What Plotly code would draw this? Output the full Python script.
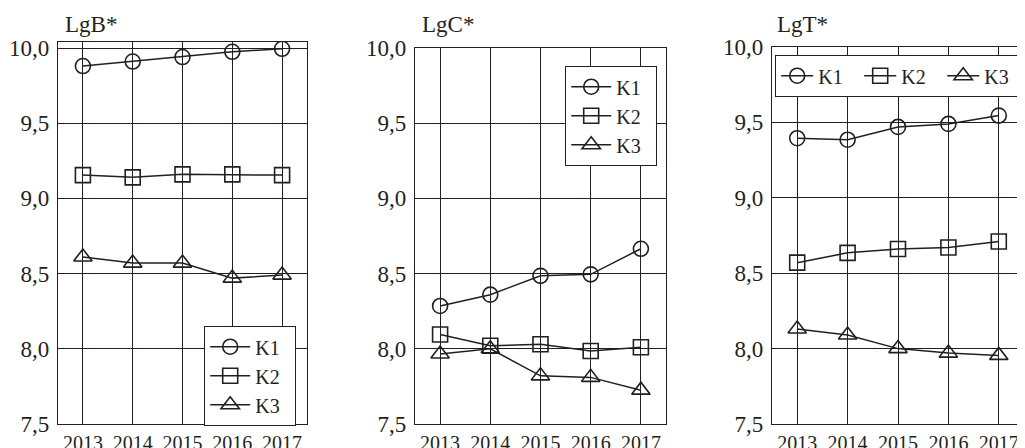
import plotly.graph_objects as go

years = [2013, 2014, 2015, 2016, 2017]
series_names = ["K1", "K2", "K3"]

lgb_k1 = [9.88, 9.91, 9.94, 9.975, 9.995]
lgb_k2 = [9.155, 9.14, 9.16, 9.16, 9.155]
lgb_k3 = [8.61, 8.57, 8.57, 8.47, 8.49]

lgc_k1 = [8.285, 8.36, 8.485, 8.495, 8.665]
lgc_k2 = [8.095, 8.02, 8.03, 7.985, 8.01]
lgc_k3 = [7.965, 8.0, 7.82, 7.81, 7.725]

lgt_k1 = [9.395, 9.385, 9.47, 9.49, 9.545]
lgt_k2 = [8.57, 8.635, 8.66, 8.67, 8.71]
lgt_k3 = [8.13, 8.09, 8.0, 7.97, 7.955]

titles = ["LgB*", "LgC*", "LgT*"]
y_ticks = [7.5, 8.0, 8.5, 9.0, 9.5, 10.0]

panels = [
    [lgb_k1, lgb_k2, lgb_k3],
    [lgc_k1, lgc_k2, lgc_k3],
    [lgt_k1, lgt_k2, lgt_k3],
]

# The page body has an 8px margin, so the figure is drawn 8px smaller and
# reference pixel positions are shifted by that offset.
OFF = 8
W, H = 1025 - OFF, 448 - OFF


def fx(px):
    return (px - OFF) / W


def fy(py):
    return 1 - (py - OFF) / H


FONT = '"Liberation Serif", "Times New Roman", "DejaVu Serif", serif'
INK = "#231f20"
symbols = ["circle-open", "square-open", "triangle-up-open"]

x_dom_px = [(58, 307), (415, 666), (772, 1024)]
y_top_px = [42, 48, 47]
y_bot_px = 424
y_max = [10.04, 10.0, 10.0]

fig = go.Figure()
legend_names = ["legend", "legend2", "legend3"]
NB = "\u00a0"

for p in range(3):
    xa = "x" if p == 0 else f"x{p+1}"
    ya = "y" if p == 0 else f"y{p+1}"
    for s in range(3):
        label = series_names[s] if p == 2 else series_names[s] + NB * 2
        fig.add_trace(go.Scatter(
            x=years, y=panels[p][s], name=label,
            mode="lines+markers", xaxis=xa, yaxis=ya,
            line=dict(color=INK, width=1.5),
            marker=dict(symbol=symbols[s], size=15 if s < 2 else 16,
                        color=INK, line=dict(color=INK, width=1.6)),
            legend=legend_names[p],
        ))

layout = dict(
    width=W, height=H,
    margin=dict(l=0, r=0, t=0, b=0, autoexpand=False),
    paper_bgcolor="white", plot_bgcolor="white",
    separators=",.",
    font=dict(family=FONT, size=22, color=INK),
    showlegend=True,
)

for p in range(3):
    xk = "xaxis" if p == 0 else f"xaxis{p+1}"
    yk = "yaxis" if p == 0 else f"yaxis{p+1}"
    x0, x1 = x_dom_px[p]
    layout[xk] = dict(
        domain=[fx(x0), min(fx(x1), 1.0)], range=[2012.5, 2017.5],
        tickvals=years, ticktext=[str(y) for y in years],
        showgrid=True, gridcolor=INK, gridwidth=1.1,
        showline=True, linecolor=INK, linewidth=1.4, mirror=True,
        zeroline=False, ticks="", ticklabelstandoff=1,
        anchor="y" if p == 0 else f"y{p+1}",
        tickfont=dict(family=FONT, size=20, color=INK),
    )
    layout[yk] = dict(
        domain=[fy(y_bot_px), fy(y_top_px[p])], range=[7.5, y_max[p]],
        tickvals=y_ticks, tickformat=".1f",
        showgrid=True, gridcolor=INK, gridwidth=1.1,
        showline=True, linecolor=INK, linewidth=1.4, mirror=True,
        zeroline=False, ticks="", ticklabelstandoff=3,
        anchor="x" if p == 0 else f"x{p+1}",
        tickfont=dict(family=FONT, size=23, color=INK),
    )

legend_common = dict(
    bgcolor="white", bordercolor=INK, borderwidth=1.2,
    font=dict(family=FONT, size=20, color=INK),
    xanchor="left", yanchor="top", tracegroupgap=0,
)
layout["legend"] = dict(x=fx(204), y=fy(326), itemwidth=40, **legend_common)
layout["legend2"] = dict(x=fx(565), y=fy(66), itemwidth=40, **legend_common)
layout["legend3"] = dict(x=fx(775), y=fy(55), orientation="h", itemwidth=32,
                         entrywidth=36, **legend_common)

fig.update_layout(**layout)

title_x = [63, 420, 775]
for p in range(3):
    fig.add_annotation(
        text=titles[p], xref="paper", yref="paper",
        x=fx(title_x[p]), y=fy(25), xanchor="left", yanchor="middle",
        showarrow=False, font=dict(family=FONT, size=23, color=INK),
    )

fig.write_html("out.html")
